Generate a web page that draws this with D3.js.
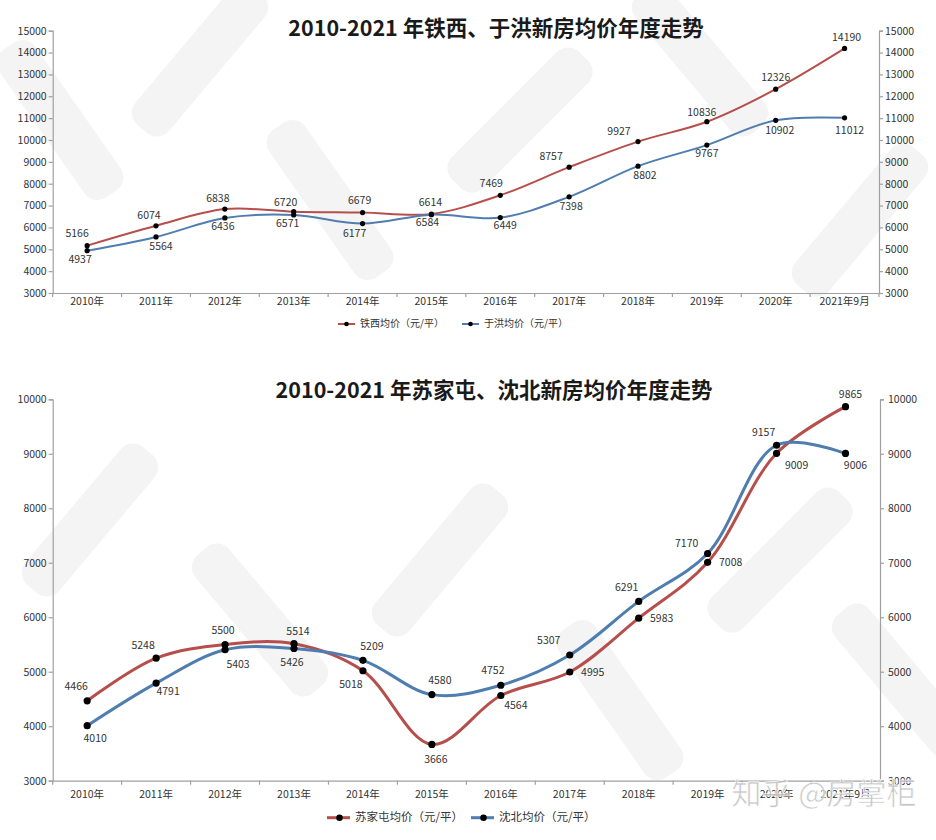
<!DOCTYPE html>
<html>
<head>
<meta charset="utf-8">
<script src="https://cdn.jsdelivr.net/npm/d3@7/dist/d3.min.js"></script>
<style>
html,body{margin:0;padding:0;background:#fff;}
svg{display:block;font-family:"Noto Sans CJK SC","Noto Sans",sans-serif;}
</style>
</head>
<body>
<svg id="chart" width="936" height="840"></svg>
<script>
// ---------- data ----------
const years = ["2010年","2011年","2012年","2013年","2014年","2015年","2016年","2017年","2018年","2019年","2020年","2021年9月"];
const tiexi    = [5166,6074,6838,6720,6679,6614,7469,8757,9927,10836,12326,14190];
const yuhong   = [4937,5564,6436,6571,6177,6584,6449,7398,8802,9767,10902,11012];
const sujiatun = [4466,5248,5500,5514,5018,3666,4564,4995,5983,7008,9009,9865];
const shenbei  = [4010,4791,5403,5426,5209,4580,4752,5307,6291,7170,9157,9006];
const topTicks = [3000,4000,5000,6000,7000,8000,9000,10000,11000,12000,13000,14000,15000];
const bottomTicks = [3000,4000,5000,6000,7000,8000,9000,10000];
const topTitle = "2010-2021 年铁西、于洪新房均价年度走势";
const bottomTitle = "2010-2021 年苏家屯、沈北新房均价年度走势";
const names = ["铁西均价（元/平）","于洪均价（元/平）","苏家屯均价（元/平）","沈北均价（元/平）"];

// ---------- label placement (layout, not data) ----------
const offTiexi    = [[-10,-11],[-7,-10],[-7,-10],[-8,-9],[-3,-11],[-1,-11],[-9,-11],[-18,-10],[-19,-9],[-5,-9],[0,-11],[2,-10]];
const offYuhong   = [[-7,9],[5,10],[-2,9],[-6,9],[-8,11],[-4,8],[5,9],[2,10],[7,10],[0,9],[4,11],[5,13]];
const offSujiatun = [[-11,-14],[-13,-12],[-2,-13],[4,-12],[-12,14],[4,16],[15,11],[23,1],[23,1],[23,1],[20,13],[5,-11]];
const offShenbei  = [[8,13],[12,9],[13,15],[-2,15],[9,-13],[8,-13],[-8,-14],[-21,-14],[-12,-13],[-21,-9],[-13,-12],[10,13]];

const RED = "#b64f4b", BLUE = "#4f7db0", AXIS = "#a0a0a0", TXT = "#333";
const svg = d3.select("#chart");
svg.append("rect").attr("width",936).attr("height",840).attr("fill","#fff");

// faint background watermark strokes (decorative shapes)
const wm = svg.append("g").attr("fill","#f4f4f4");
[[60,120,-35],[200,60,40],[330,200,-35],[520,120,45],[700,60,-40],[860,220,40],
 [90,520,40],[260,620,-40],[440,560,40],[620,700,-35],[780,560,45],[900,680,-40]].forEach(d=>{
  wm.append("rect").attr("x",-22).attr("y",-90).attr("width",44).attr("height",180).attr("rx",16)
    .attr("transform",`translate(${d[0]},${d[1]}) rotate(${d[2]})`);
});

function drawChart(cfg){
  const g = svg.append("g");
  const x = d3.scaleBand().domain(years).range([cfg.left,cfg.right]).padding(0);
  const y = d3.scaleLinear().domain([cfg.ticks[0],cfg.ticks[cfg.ticks.length-1]]).range([cfg.bottom,cfg.top]);
  const cx = d => x(d) + x.bandwidth()/2;

  // axes
  const ax = g.append("g").attr("transform",`translate(${cfg.left},0)`)
    .call(d3.axisLeft(y).tickValues(cfg.ticks).tickSize(4).tickPadding(2).tickFormat(d3.format("d")));
  const ar = g.append("g").attr("transform",`translate(${cfg.right},0)`)
    .call(d3.axisRight(y).tickValues(cfg.ticks).tickSize(4).tickPadding(cfg.rpad).tickFormat(d3.format("d")));
  const ab = g.append("g").attr("transform",`translate(0,${cfg.bottom})`)
    .call(d3.axisBottom(x).tickSize(0).tickPadding(cfg.xpad));
  // category separator ticks
  ab.selectAll(".sep").data(years.concat(["__end"])).enter().append("line")
    .attr("x1",(d,i)=>cfg.left + i*x.step()).attr("x2",(d,i)=>cfg.left + i*x.step())
    .attr("y1",0).attr("y2",4).attr("stroke",AXIS);
  [ax,ar,ab].forEach(a=>{
    a.selectAll("path,line").attr("stroke",AXIS).attr("stroke-width",1.2);
    a.selectAll("text").attr("fill",TXT).attr("font-size",10.5).attr("font-family",'"Noto Sans CJK SC",sans-serif');
  });

  // title
  g.append("text").attr("x",cfg.titleX).attr("y",cfg.titleY).attr("text-anchor","middle")
    .attr("dominant-baseline","middle").attr("font-size",21.5).attr("font-weight","bold").attr("fill","#1a1a1a")
    .text(cfg.title);

  const line = d3.line().x((d,i)=>cx(years[i])).y(d=>y(d)).curve(d3.curveCatmullRom.alpha(0.5));
  cfg.series.forEach(s=>{
    g.append("path").datum(s.values).attr("d",line).attr("fill","none")
      .attr("stroke",s.color).attr("stroke-width",cfg.lw);
  });
  cfg.series.forEach(s=>{
    g.selectAll(null).data(s.values).enter().append("circle")
      .attr("cx",(d,i)=>cx(years[i])).attr("cy",d=>y(d)).attr("r",cfg.r).attr("fill","#000");
    g.selectAll(null).data(s.values).enter().append("text")
      .attr("x",(d,i)=>cx(years[i]) + s.offsets[i][0]).attr("y",(d,i)=>y(d) + s.offsets[i][1])
      .attr("text-anchor","middle").attr("dominant-baseline","middle")
      .attr("font-size",10.5).attr("fill",TXT).text(d=>d);
  });

  // legend
  cfg.series.forEach(s=>{
    const lg = g.append("g").attr("transform",`translate(${s.lx},${cfg.legendY})`);
    lg.append("line").attr("x1",0).attr("x2",cfg.legW).attr("y1",0).attr("y2",0).attr("stroke",s.color).attr("stroke-width",cfg.lw);
    lg.append("circle").attr("cx",cfg.legW/2+ (cfg.legW>20?1:0)).attr("cy",0).attr("r",cfg.r*0.9).attr("fill","#000");
    lg.append("text").attr("x",cfg.legW+5).attr("y",0).attr("dominant-baseline","middle")
      .attr("font-size",cfg.legFont).attr("fill",TXT).text(s.name);
  });
}

drawChart({
  left:52.7, right:879, top:30.7, bottom:293, ticks:topTicks, rpad:2, xpad:5,
  title:topTitle, titleX:496, titleY:30.5, lw:2, r:2.6,
  legendY:324, legW:17, legFont:10,
  series:[
    {values:tiexi, color:RED, offsets:offTiexi, name:names[0], lx:338},
    {values:yuhong, color:BLUE, offsets:offYuhong, name:names[1], lx:462}
  ]
});

drawChart({
  left:52.7, right:880, top:399.3, bottom:780.7, ticks:bottomTicks, rpad:4, xpad:10,
  title:bottomTitle, titleX:494, titleY:392, lw:3, r:3.6,
  legendY:817.7, legW:23, legFont:11.5,
  series:[
    {values:sujiatun, color:RED, offsets:offSujiatun, name:names[2], lx:327},
    {values:shenbei, color:BLUE, offsets:offShenbei, name:names[3], lx:471}
  ]
});

// corner watermark text
svg.append("text").attr("x",824).attr("y",796).attr("text-anchor","middle").attr("dominant-baseline","middle")
  .attr("font-size",30).attr("fill","#bdbdbd").attr("fill-opacity",0.85).attr("stroke","#fff").attr("stroke-width",0.6)
  .text("知乎 @房掌柜");
</script>
</body>
</html>
